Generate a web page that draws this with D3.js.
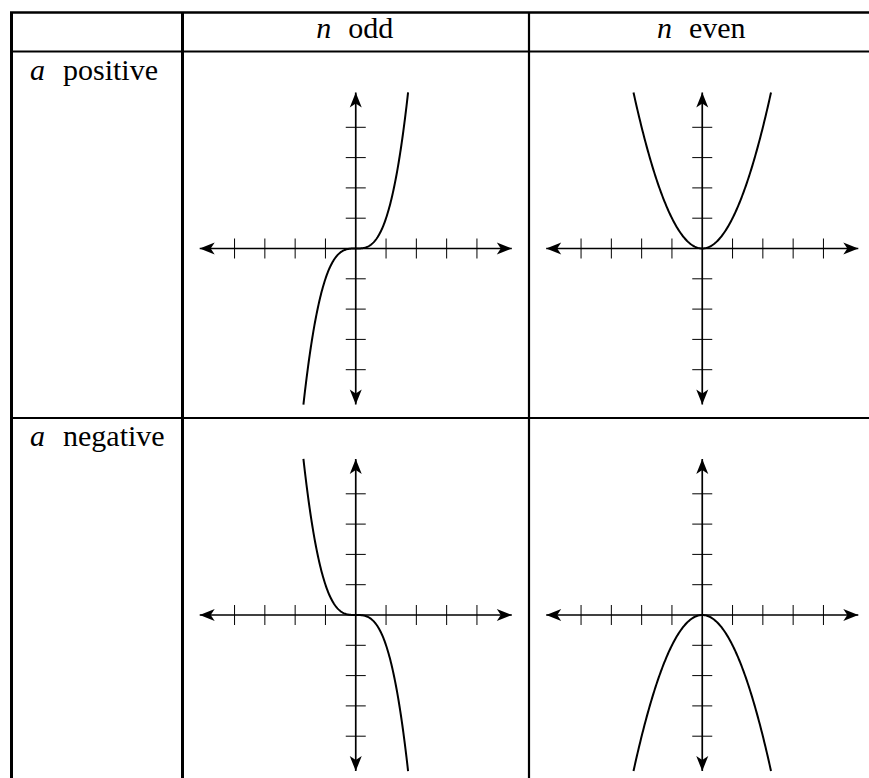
<!DOCTYPE html>
<html lang="en">
<head>
<meta charset="utf-8">
<title>Power functions table</title>
<script src="https://cdn.jsdelivr.net/npm/d3@7"></script>
<style>
  body { margin: 0; background: #fff; }
  text { font-family: "Liberation Serif", "Times New Roman", serif; fill: #000; }
</style>
</head>
<body>
<script>

var w = 869;
var h = 778;

// table content
var columnHeads = [["n", "odd"], ["n", "even"]];
var rowHeads = [["a", "positive"], ["a", "negative"]];

// y = a * x^n for each cell
var coefficients = [1, -1];   // a per row
var exponents = [3, 2];       // n per column

var tickValues = [-4, -3, -2, -1, 1, 2, 3, 4];
var axisLimit = 5.15;

// table grid (pixels)
var colEdges = [11.5, 182.5, 529, 875.5];
var rowEdges = [12.5, 51.5, 418, 784];
var unit = 30.3;
var originDrop = 197;   // origin below the top of each plot row
var tickHalf = 10;
var fontSize = 30;

var svg = d3.select("body")
            .append("svg")
            .attr("width", w)
            .attr("height", h);

var defs = svg.append("defs");
defs.append("marker")
    .attr("id", "arrow")
    .attr("viewBox", "-16 -7 17 14")
    .attr("markerWidth", 17)
    .attr("markerHeight", 14)
    .attr("markerUnits", "userSpaceOnUse")
    .attr("refX", 0)
    .attr("refY", 0)
    .attr("orient", "auto-start-reverse")
  .append("path")
    .attr("d", "M0,0 L-15,-6 L-11,0 L-15,6 Z")
    .attr("fill", "#000");

// grid lines
var grid = svg.append("g");
function hline(y, x0, x1, sw) {
  grid.append("line").attr("x1", x0).attr("x2", x1).attr("y1", y).attr("y2", y)
      .attr("stroke", "#000").attr("stroke-width", sw);
}
function vline(x, y0, y1, sw) {
  grid.append("line").attr("x1", x).attr("x2", x).attr("y1", y0).attr("y2", y1)
      .attr("stroke", "#000").attr("stroke-width", sw);
}
hline(rowEdges[0], colEdges[0] - 1.5, w, 2.6);
hline(rowEdges[1], colEdges[0], w, 2);
hline(rowEdges[2], colEdges[0], w, 2.2);
vline(colEdges[0], rowEdges[0], h, 3);
vline(colEdges[1], rowEdges[0], h, 3);
vline(colEdges[2], rowEdges[0], h, 2.2);

// headers: italic symbol, then the word
columnHeads.forEach(function(d, i) {
  var t = svg.append("text")
     .attr("x", (colEdges[i + 1] + colEdges[i + 2]) / 2 - 1)
     .attr("y", 38)
     .attr("text-anchor", "middle")
     .attr("font-size", fontSize);
  t.append("tspan").attr("font-style", "italic").text(d[0]);
  t.append("tspan").attr("dx", 17).text(d[1]);
});

rowHeads.forEach(function(d, i) {
  var t = svg.append("text")
     .attr("x", 30)
     .attr("y", rowEdges[i + 1] + 28)
     .attr("font-size", fontSize);
  t.append("tspan").attr("font-style", "italic").text(d[0]);
  t.append("tspan").attr("dx", 18).text(d[1]);
});

// one plot per cell
coefficients.forEach(function(a, r) {
  exponents.forEach(function(n, c) {
    var cx = (colEdges[c + 1] + colEdges[c + 2]) / 2;
    var cy = rowEdges[r + 1] + originDrop;

    var x = d3.scaleLinear().domain([-1, 1]).range([cx - unit, cx + unit]);
    var y = d3.scaleLinear().domain([-1, 1]).range([cy + unit, cy - unit]);

    var g = svg.append("g");

    // ticks
    g.selectAll(".xt")
      .data(tickValues)
      .enter().append("line")
      .attr("x1", function(d) { return x(d); })
      .attr("x2", function(d) { return x(d); })
      .attr("y1", y(0) - tickHalf)
      .attr("y2", y(0) + tickHalf)
      .attr("stroke", "#000")
      .attr("stroke-width", 1);

    g.selectAll(".yt")
      .data(tickValues)
      .enter().append("line")
      .attr("y1", function(d) { return y(d); })
      .attr("y2", function(d) { return y(d); })
      .attr("x1", x(0) - tickHalf)
      .attr("x2", x(0) + tickHalf)
      .attr("stroke", "#000")
      .attr("stroke-width", 1);

    // axes with arrow heads at both ends
    g.append("line")
      .attr("x1", x(-axisLimit)).attr("x2", x(axisLimit))
      .attr("y1", y(0)).attr("y2", y(0))
      .attr("stroke", "#000").attr("stroke-width", 1.7)
      .attr("marker-start", "url(#arrow)")
      .attr("marker-end", "url(#arrow)");

    g.append("line")
      .attr("x1", x(0)).attr("x2", x(0))
      .attr("y1", y(-axisLimit)).attr("y2", y(axisLimit))
      .attr("stroke", "#000").attr("stroke-width", 1.7)
      .attr("marker-start", "url(#arrow)")
      .attr("marker-end", "url(#arrow)");

    // curve y = a x^n, kept inside |y| <= axisLimit
    var xMax = Math.pow(axisLimit, 1 / n);
    var pts = d3.range(0, 201).map(function(i) {
      var t = -xMax + 2 * xMax * i / 200;
      return [t, a * Math.pow(t, n)];
    });

    g.append("path")
      .datum(pts)
      .attr("d", d3.line()
        .x(function(d) { return x(d[0]); })
        .y(function(d) { return y(d[1]); }))
      .attr("fill", "none")
      .attr("stroke", "#000")
      .attr("stroke-width", 2);
  });
});

</script>
</body>
</html>
